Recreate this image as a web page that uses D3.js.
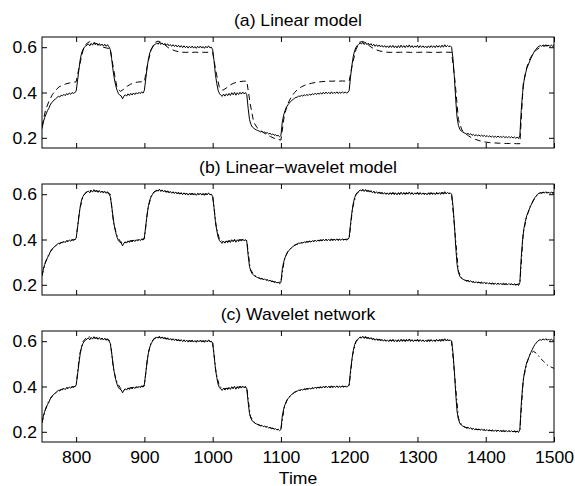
<!DOCTYPE html>
<html>
<head>
<meta charset="utf-8">
<script src="https://cdn.jsdelivr.net/npm/d3@7"></script>
<style>
  body { margin: 0; background: #fff; }
  svg { display: block; font-family: 'Liberation Sans', Arial, sans-serif; }
</style>
</head>
<body>
<svg id="chart" width="575" height="486"></svg>
<script>
// time axis: measured output every 2 steps, model outputs every 5 steps
var timeStart = 750;
var measStep = 2;
var predStep = 5;

var panelTitles = ['(a) Linear model', '(b) Linear\u2212wavelet model', '(c) Wavelet network'];
var xTicks = [800, 900, 1000, 1100, 1200, 1300, 1400, 1500];
var yTicks = [0.2, 0.4, 0.6];

// measured process output (solid line, same in all panels)
var measured = [
  0.24, 0.27, 0.29, 0.305, 0.32, 0.33, 0.345, 0.355, 0.36, 0.368, 0.372, 0.378, 0.383, 0.38, 0.388, 0.385, 0.392, 0.386, 0.395, 0.39, 0.398, 0.392, 0.40, 0.396, 0.40,
  0.405, 0.45, 0.50, 0.545, 0.575, 0.59, 0.60, 0.605, 0.61, 0.614, 0.606, 0.617, 0.609, 0.62, 0.611, 0.618, 0.608, 0.616, 0.607, 0.614, 0.605, 0.613, 0.604, 0.611, 0.602,
  0.59, 0.55, 0.50, 0.46, 0.43, 0.41, 0.395, 0.388, 0.385, 0.372, 0.384, 0.39, 0.384, 0.394, 0.387, 0.396, 0.389, 0.398, 0.391, 0.399, 0.393, 0.401, 0.395, 0.403, 0.397,
  0.41, 0.46, 0.51, 0.55, 0.575, 0.59, 0.60, 0.61, 0.612, 0.619, 0.613, 0.622, 0.612, 0.619, 0.61, 0.617, 0.608, 0.615, 0.606, 0.612,
  0.604, 0.611, 0.603, 0.61, 0.601, 0.608, 0.600, 0.607, 0.598, 0.606, 0.598, 0.605, 0.596, 0.604, 0.597, 0.605, 0.596, 0.603, 0.595, 0.604,
  0.597, 0.605, 0.596, 0.603, 0.595, 0.604, 0.597, 0.606, 0.597, 0.60,
  0.59, 0.54, 0.48, 0.44, 0.41, 0.395, 0.388, 0.383, 0.393, 0.384, 0.394, 0.386, 0.396, 0.387, 0.399, 0.39, 0.401, 0.388, 0.399, 0.391, 0.401, 0.393, 0.402, 0.394, 0.40,
  0.39, 0.33, 0.28, 0.26, 0.248, 0.243, 0.238, 0.235, 0.232, 0.23, 0.226, 0.229, 0.223, 0.226, 0.22, 0.223, 0.217, 0.22, 0.214, 0.217, 0.211, 0.214, 0.208, 0.211, 0.205,
  0.21, 0.27, 0.30, 0.32, 0.335, 0.345, 0.352, 0.36, 0.365, 0.37, 0.375, 0.378, 0.38, 0.384, 0.383, 0.387, 0.384, 0.39, 0.386, 0.391,
  0.387, 0.393, 0.388, 0.395, 0.39, 0.397, 0.391, 0.398, 0.392, 0.399, 0.393, 0.401, 0.394, 0.402, 0.395, 0.401, 0.394, 0.403, 0.395, 0.401,
  0.396, 0.403, 0.395, 0.402, 0.396, 0.403, 0.397, 0.402, 0.398, 0.40,
  0.41, 0.47, 0.52, 0.56, 0.585, 0.60, 0.608, 0.612, 0.619, 0.614, 0.622, 0.612, 0.621, 0.611, 0.618, 0.609, 0.616, 0.606, 0.613, 0.604,
  0.611, 0.603, 0.61, 0.601, 0.608, 0.60, 0.607, 0.599, 0.606, 0.598, 0.607, 0.599, 0.608, 0.598, 0.606, 0.597, 0.607, 0.598, 0.609, 0.599,
  0.607, 0.598, 0.608, 0.60, 0.61, 0.599, 0.607, 0.598, 0.606, 0.60, 0.608, 0.598, 0.607, 0.599, 0.606, 0.598, 0.605, 0.597, 0.606, 0.598,
  0.607, 0.599, 0.606, 0.598, 0.608, 0.60, 0.607, 0.599, 0.609, 0.60, 0.611, 0.601, 0.608, 0.602, 0.606,
  0.60, 0.55, 0.47, 0.37, 0.29, 0.255, 0.238, 0.23, 0.226, 0.222, 0.22, 0.216, 0.22, 0.214, 0.218, 0.211, 0.215, 0.209, 0.214, 0.208,
  0.213, 0.207, 0.212, 0.206, 0.211, 0.205, 0.21, 0.204, 0.209, 0.203, 0.208, 0.202, 0.207, 0.202, 0.208, 0.202, 0.206, 0.201, 0.207, 0.201,
  0.205, 0.20, 0.206, 0.20, 0.205, 0.199, 0.204, 0.198, 0.203, 0.197,
  0.21, 0.32, 0.40, 0.45, 0.48, 0.505, 0.52, 0.535, 0.55, 0.562, 0.575, 0.585, 0.592, 0.60, 0.604, 0.607, 0.604, 0.61, 0.605, 0.611,
  0.604, 0.61, 0.603, 0.609, 0.604, 0.606
];

// model outputs (dashed)
var predLinear = [
  0.25, 0.32, 0.36, 0.39, 0.41, 0.425, 0.432, 0.438, 0.442, 0.445, 0.447,
  0.52, 0.585, 0.615, 0.625, 0.622, 0.615, 0.608, 0.60, 0.596, 0.593,
  0.50, 0.42, 0.405, 0.415, 0.428, 0.437, 0.443, 0.446, 0.447, 0.448,
  0.53, 0.59, 0.62, 0.627, 0.62, 0.61, 0.598, 0.59, 0.584, 0.58,
  0.578, 0.577, 0.578, 0.577, 0.578, 0.577, 0.578, 0.577, 0.578, 0.577,
  0.49, 0.42, 0.41, 0.42, 0.432, 0.44, 0.445, 0.448, 0.45, 0.45,
  0.35, 0.27, 0.245, 0.232, 0.222, 0.213, 0.205, 0.198, 0.193, 0.19,
  0.30, 0.35, 0.38, 0.40, 0.415, 0.425, 0.432, 0.437, 0.441, 0.444,
  0.446, 0.448, 0.449, 0.45, 0.45, 0.451, 0.45, 0.451, 0.45, 0.451,
  0.53, 0.59, 0.622, 0.625, 0.618, 0.605, 0.595, 0.588, 0.583, 0.58,
  0.578, 0.577, 0.578, 0.577, 0.578, 0.577, 0.578, 0.577, 0.578, 0.577,
  0.578, 0.577, 0.578, 0.577, 0.578, 0.577, 0.578, 0.577, 0.578, 0.577,
  0.45, 0.28, 0.235, 0.22, 0.208, 0.199, 0.193, 0.188, 0.184, 0.181,
  0.179, 0.178, 0.177, 0.176, 0.176, 0.175, 0.175, 0.175, 0.174, 0.174,
  0.44, 0.51, 0.55, 0.575, 0.59, 0.60, 0.605, 0.607, 0.608, 0.609
];

var predLinWavelet = [
  0.24, 0.30, 0.335, 0.358, 0.373, 0.382, 0.388, 0.392, 0.396, 0.398, 0.402,
  0.53, 0.59, 0.61, 0.616, 0.615, 0.613, 0.612, 0.61, 0.608, 0.60,
  0.47, 0.415, 0.39, 0.383, 0.39, 0.394, 0.396, 0.398, 0.399, 0.403,
  0.535, 0.592, 0.612, 0.617, 0.616, 0.613, 0.61, 0.608, 0.606, 0.604,
  0.603, 0.602, 0.601, 0.601, 0.60, 0.601, 0.60, 0.60, 0.601, 0.595,
  0.46, 0.40, 0.39, 0.391, 0.393, 0.395, 0.396, 0.398, 0.399, 0.395,
  0.27, 0.245, 0.234, 0.228, 0.224, 0.221, 0.217, 0.213, 0.21, 0.212,
  0.31, 0.347, 0.362, 0.374, 0.381, 0.385, 0.388, 0.391, 0.393, 0.394,
  0.396, 0.397, 0.398, 0.398, 0.399, 0.40, 0.40, 0.40, 0.40, 0.405,
  0.54, 0.598, 0.614, 0.618, 0.616, 0.613, 0.61, 0.608, 0.606, 0.604,
  0.603, 0.603, 0.604, 0.603, 0.603, 0.604, 0.603, 0.604, 0.603, 0.604,
  0.603, 0.603, 0.604, 0.604, 0.603, 0.604, 0.605, 0.605, 0.605, 0.60,
  0.43, 0.26, 0.228, 0.22, 0.216, 0.213, 0.211, 0.21, 0.208, 0.207,
  0.206, 0.205, 0.204, 0.204, 0.203, 0.203, 0.202, 0.202, 0.201, 0.205,
  0.43, 0.50, 0.545, 0.573, 0.595, 0.605, 0.607, 0.607, 0.607, 0.607
];

var predWavelet = [
  0.24, 0.30, 0.336, 0.358, 0.372, 0.382, 0.389, 0.393, 0.396, 0.398, 0.402,
  0.54, 0.598, 0.616, 0.619, 0.616, 0.613, 0.611, 0.61, 0.608, 0.60,
  0.47, 0.417, 0.392, 0.384, 0.39, 0.394, 0.396, 0.398, 0.399, 0.403,
  0.54, 0.596, 0.614, 0.618, 0.616, 0.613, 0.61, 0.608, 0.606, 0.604,
  0.603, 0.602, 0.601, 0.601, 0.60, 0.601, 0.60, 0.60, 0.601, 0.595,
  0.46, 0.40, 0.39, 0.391, 0.393, 0.395, 0.396, 0.398, 0.399, 0.395,
  0.27, 0.245, 0.234, 0.228, 0.224, 0.221, 0.217, 0.213, 0.21, 0.212,
  0.31, 0.347, 0.362, 0.374, 0.381, 0.385, 0.388, 0.391, 0.393, 0.394,
  0.396, 0.397, 0.398, 0.398, 0.399, 0.40, 0.40, 0.40, 0.40, 0.405,
  0.54, 0.598, 0.614, 0.618, 0.616, 0.613, 0.61, 0.608, 0.606, 0.604,
  0.603, 0.603, 0.604, 0.603, 0.603, 0.604, 0.603, 0.604, 0.603, 0.604,
  0.603, 0.603, 0.604, 0.604, 0.603, 0.604, 0.605, 0.605, 0.605, 0.60,
  0.43, 0.26, 0.228, 0.22, 0.216, 0.213, 0.211, 0.21, 0.208, 0.207,
  0.206, 0.205, 0.204, 0.204, 0.203, 0.203, 0.202, 0.202, 0.201, 0.205,
  0.43, 0.50, 0.545, 0.555, 0.545, 0.525, 0.51, 0.495, 0.487, 0.48
];

var predictions = [predLinear, predLinWavelet, predWavelet];
var dashPatterns = ['6,4', '5,3,1.5,3', '5,3,1.5,3'];

// layout
var plotLeft = 42;
var plotRight = 554;
var panelTops = [37, 184, 331];
var panelHeight = 111;
var fontSize = 16;
var textStretch = 1.1; // the original text is a bit wide

var svg = d3.select('#chart');

var xScale = d3.scaleLinear()
  .domain([750, 1500])
  .range([plotLeft, plotRight]);

function toPoints(values, step) {
  return values.map((v, i) => ({ t: timeStart + i * step, v: v }));
}

function stretchText(sel) {
  sel.style('font-size', fontSize + 'px')
    .attr('fill', '#000')
    .attr('transform', 'scale(' + textStretch + ',1)');
}

function drawPanel(k) {
  var top = panelTops[k];
  var yScale = d3.scaleLinear()
    .domain([0.155, 0.645])
    .range([top + panelHeight, top]);

  var g = svg.append('g').attr('class', 'panel');

  // clip so traces stay inside the box
  svg.append('clipPath')
    .attr('id', 'clip' + k)
    .append('rect')
    .attr('x', plotLeft)
    .attr('y', top)
    .attr('width', plotRight - plotLeft)
    .attr('height', panelHeight);

  var line = d3.line()
    .x(d => xScale(d.t))
    .y(d => yScale(d.v));

  var traces = g.append('g').attr('clip-path', 'url(#clip' + k + ')');

  traces.append('path')
    .datum(toPoints(measured, measStep))
    .attr('fill', 'none')
    .attr('stroke', '#000')
    .attr('stroke-width', 1)
    .attr('stroke-linejoin', 'round')
    .attr('d', line);

  traces.append('path')
    .datum(toPoints(predictions[k], predStep))
    .attr('fill', 'none')
    .attr('stroke', '#000')
    .attr('stroke-width', 1)
    .attr('stroke-dasharray', dashPatterns[k])
    .attr('d', line);

  // axes, ticks pointing inward
  var xBottom = d3.axisBottom(xScale).tickValues(xTicks).tickSizeInner(-5).tickSizeOuter(0).tickPadding(10)
    .tickFormat(d3.format('d'));
  if (k < 2) xBottom.tickFormat('');
  var bottomAxis = g.append('g')
    .attr('transform', `translate(0,${top + panelHeight})`)
    .call(xBottom);
  bottomAxis.selectAll('text')
    .attr('x', 0)
    .call(stretchText);

  g.append('g')
    .attr('transform', `translate(0,${top})`)
    .call(d3.axisTop(xScale).tickValues(xTicks).tickSizeInner(-5).tickSizeOuter(0).tickFormat(''));

  var leftAxis = g.append('g')
    .attr('transform', `translate(${plotLeft},0)`)
    .call(d3.axisLeft(yScale).tickValues(yTicks).tickSizeInner(-5).tickSizeOuter(0).tickPadding(5).tickFormat(d3.format('.1f')));
  leftAxis.selectAll('text')
    .attr('x', -5 / textStretch)
    .attr('dy', '0.35em')
    .call(stretchText);

  g.append('g')
    .attr('transform', `translate(${plotRight},0)`)
    .call(d3.axisRight(yScale).tickValues(yTicks).tickSizeInner(-5).tickSizeOuter(0).tickFormat(''));

  g.selectAll('.domain').remove();
  g.selectAll('.tick line').attr('stroke', '#000').attr('stroke-width', 1);

  g.append('rect')
    .attr('x', plotLeft)
    .attr('y', top)
    .attr('width', plotRight - plotLeft)
    .attr('height', panelHeight)
    .attr('fill', 'none')
    .attr('stroke', '#000')
    .attr('stroke-width', 1);

  g.append('g')
    .attr('transform', `translate(${(plotLeft + plotRight) / 2},${top - 11.5})`)
    .append('text')
    .attr('text-anchor', 'middle')
    .text(panelTitles[k])
    .call(stretchText);
}

for (let k = 0; k < 3; k++) {
  drawPanel(k);
}

svg.append('g')
  .attr('transform', `translate(${(plotLeft + plotRight) / 2},483.5)`)
  .append('text')
  .attr('text-anchor', 'middle')
  .text('Time')
  .call(stretchText);
</script>
</body>
</html>
